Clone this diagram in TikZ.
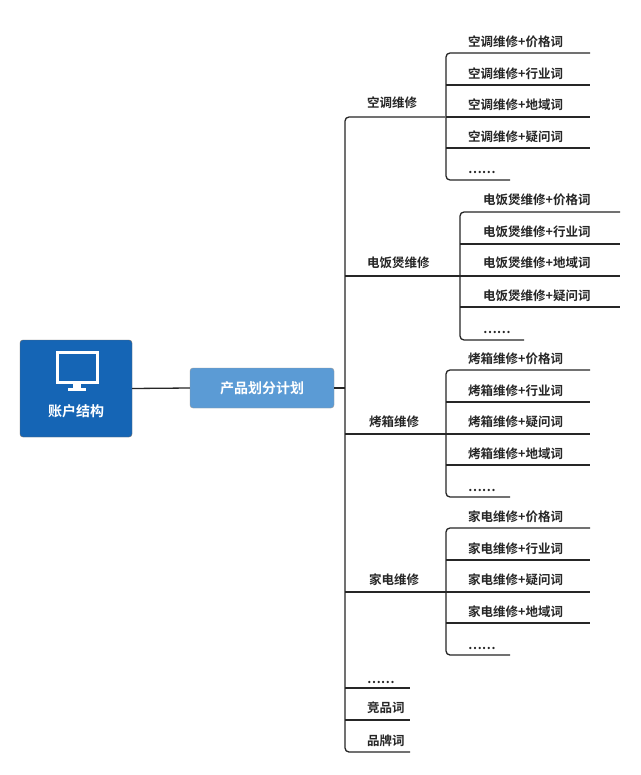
\documentclass[tikz,border=0pt]{standalone}
\usepackage{fontspec}
\newfontfamily\cjk{Noto Sans CJK SC Bold}
\begin{document}
\begin{tikzpicture}[x=1pt,y=-1pt,
  ln/.style={line width=1.3pt,draw=black!85},
  lbl/.style={font=\cjk\fontsize{12.5}{14}\selectfont,anchor=base west,inner sep=0pt,text=black!85}]
\useasboundingbox (0,0) rectangle (640,775);
\fill[white] (0,0) rectangle (640,775);
% root
\node[draw=black!60,fill={rgb,255:red,21;green,101;blue,181},rounded corners=3pt,minimum width=112pt,minimum height=97pt,inner sep=0pt] (root) at (76,388.5) {};
\draw[white,line width=3pt] (57,352) rectangle (97,382);
\fill[white] (73,382) rectangle (81,389);
\fill[white] (68,388) rectangle (86,391);
\node[font=\cjk\fontsize{14}{16}\selectfont,text=white] (rt) at (76,411) {账户结构};
% second
\node[fill={rgb,255:red,91;green,155;blue,213},draw=black!40,rounded corners=3pt,minimum width=144pt,minimum height=40pt,inner sep=0pt,font=\cjk\fontsize{14}{16}\selectfont,text=white] (plan) at (262,388) {产品划分计划};
\draw[ln] (root.east) -- (plan.west);
\coordinate (tr) at (345,388);
\draw[ln] (plan.east) -- (tr);
% trunk
\draw[ln,rounded corners=4pt] (445,117) -- (345,117) -- (345,752) -- (410,752);
\draw[ln] (345,276) -- (460,276);
\draw[ln] (345,434) -- (446,434);
\draw[ln] (345,592) -- (446,592);
\draw[ln] (345,688) -- (410,688);
\draw[ln] (345,720) -- (410,720);
\node[lbl] (g1) at (367,108) {空调维修};
\node[lbl] (g2) at (367,268) {电饭煲维修};
\node[lbl] (g3) at (369,426) {烤箱维修};
\node[lbl] (g4) at (369,584) {家电维修};
\node[lbl] (g5) at (367,683) {……};
\node[lbl] (g6) at (367,712) {竞品词};
\node[lbl] (g7) at (367,745) {品牌词};
% group helper
\newcommand\grp[9]{% xv, xtxt, xend, y1..y5, prefix
  \draw[ln,rounded corners=4pt] (#3,#4) -- (#1,#4) -- (#1,#8) -- (#1+64,#8);
  \draw[ln] (#1,#5) -- (#3,#5);
  \draw[ln] (#1,#6) -- (#3,#6);
  \draw[ln] (#1,#7) -- (#3,#7);
}
\grp{446}{468}{590}{53}{85}{117}{148}{180}{}
\node[lbl] (a1) at (468,47) {空调维修+价格词};
\node[lbl] (a2) at (468,79) {空调维修+行业词};
\node[lbl] (a3) at (468,110) {空调维修+地域词};
\node[lbl] (a4) at (468,142) {空调维修+疑问词};
\node[lbl] (a5) at (468,174) {……};
\grp{460}{483}{620}{212}{244}{276}{307}{340}{}
\node[lbl] (b1) at (483,205) {电饭煲维修+价格词};
\node[lbl] (b2) at (483,237) {电饭煲维修+行业词};
\node[lbl] (b3) at (483,268) {电饭煲维修+地域词};
\node[lbl] (b4) at (483,300) {电饭煲维修+疑问词};
\node[lbl] (b5) at (483,333) {……};
\grp{446}{468}{590}{370}{402}{434}{465}{497}{}
\node[lbl] (c1) at (468,363) {烤箱维修+价格词};
\node[lbl] (c2) at (468,395) {烤箱维修+行业词};
\node[lbl] (c3) at (468,426) {烤箱维修+疑问词};
\node[lbl] (c4) at (468,458) {烤箱维修+地域词};
\node[lbl] (c5) at (468,491) {……};
\grp{446}{468}{590}{528}{560}{592}{623}{655}{}
\node[lbl] (d1) at (468,521) {家电维修+价格词};
\node[lbl] (d2) at (468,553) {家电维修+行业词};
\node[lbl] (d3) at (468,584) {家电维修+疑问词};
\node[lbl] (d4) at (468,616) {家电维修+地域词};
\node[lbl] (d5) at (468,649) {……};
\end{tikzpicture}
\end{document}
